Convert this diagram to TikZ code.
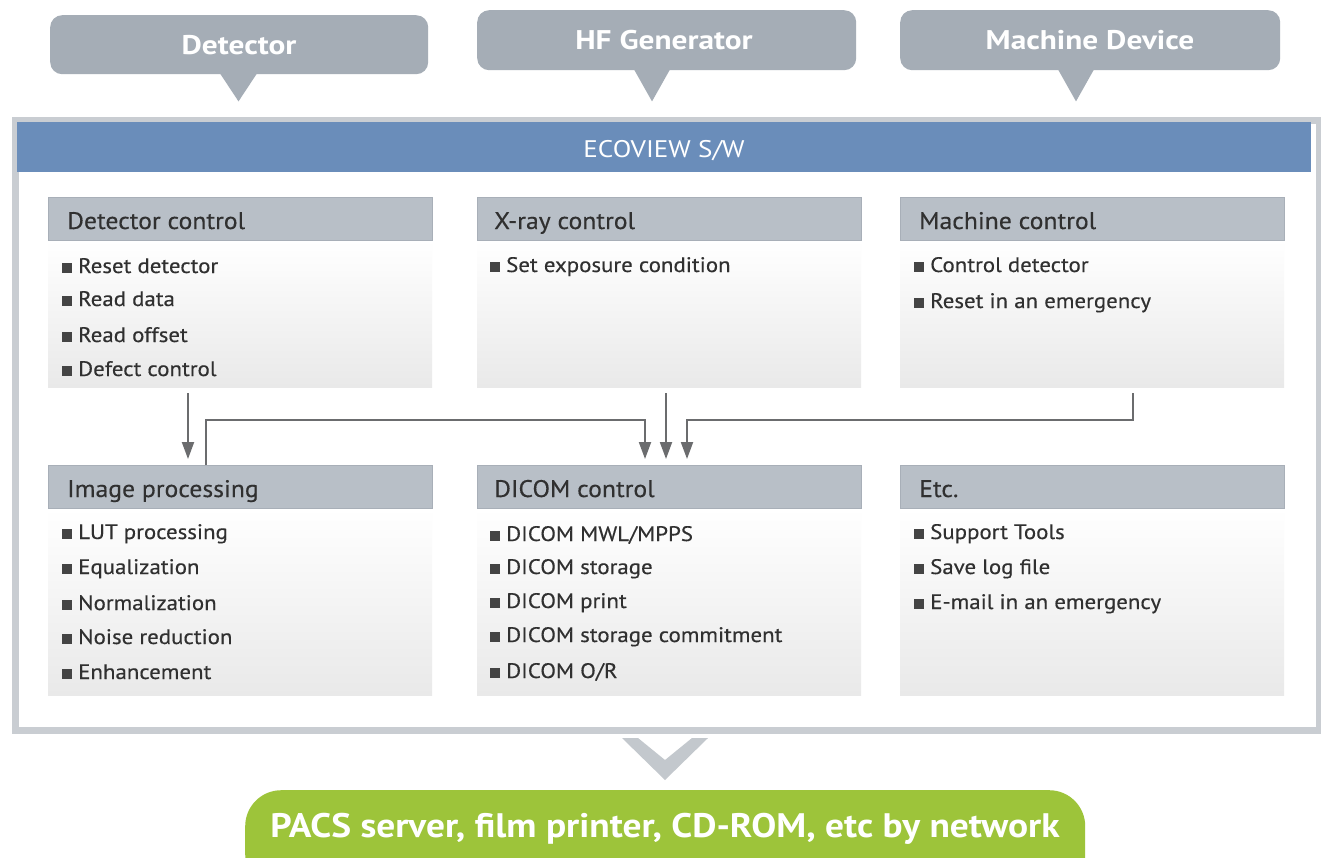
\documentclass[tikz,border=0pt]{standalone}
\usepackage{fontspec}
\setmainfont{PT Sans}
\newfontfamily\bodyfont{PT Sans}[FakeStretch=1.09, FakeBold=0.35]
\newfontfamily\hdrfont{PT Sans}[FakeStretch=1.07, FakeBold=0.3]
\newfontfamily\callfont{PT Sans}[FakeStretch=1.16]
\newfontfamily\pillfont{PT Sans}[FakeStretch=1.1]
\newfontfamily\bandfont{PT Sans}[FakeStretch=1.13]
\usetikzlibrary{calc,arrows.meta}
\definecolor{callgray}{HTML}{A5ADB6}
\definecolor{bandblue}{HTML}{6A8DBA}
\definecolor{hdrgray}{HTML}{B8BFC7}
\definecolor{hdrline}{HTML}{A8AFB8}
\definecolor{framegray}{HTML}{C9CDD2}
\definecolor{arrowgray}{HTML}{6B6C6E}
\definecolor{pillgreen}{HTML}{9DC43A}
\definecolor{chevgray}{HTML}{C3C8CD}
\definecolor{txtdark}{HTML}{303030}
\definecolor{bulgray}{HTML}{444444}
\definecolor{panelbot}{HTML}{E9E9E9}
\newcommand{\bsq}{\textcolor{bulgray}{\rule{10pt}{10pt}}\hspace{6pt}}
\begin{document}
\begin{tikzpicture}[x=1pt,y=-1pt,
  callout/.style={fill=callgray, rounded corners=12pt, inner sep=0pt, text=white,
    font=\callfont\fontsize{27}{30}\selectfont\bfseries},
  frame/.style={draw=framegray, line width=7pt, fill=white, inner sep=0pt},
  band/.style={fill=bandblue, inner sep=0pt, text=white, font=\bandfont\fontsize{24}{26}\selectfont},
  hdr/.style={fill=hdrgray, draw=hdrline, line width=0.8pt, inner sep=0pt,
    minimum width=384pt, minimum height=43pt, anchor=north west},
  hdrtxt/.style={anchor=base west, inner sep=0pt, text=txtdark, font=\hdrfont\fontsize{24}{28}\selectfont},
  content/.style={top color=white, bottom color=panelbot, inner sep=0pt,
    minimum width=384pt, anchor=north west},
  item/.style={anchor=base west, inner sep=0pt, text=txtdark, font=\bodyfont\fontsize{21}{24}\selectfont},
  conn/.style={draw=arrowgray, line width=2pt},
  tip/.style={-{Triangle[length=17pt,width=12pt]}},
  pill/.style={fill=pillgreen, rounded corners=36pt, inner sep=0pt},
  pilltxt/.style={text=white, inner sep=0pt, font=\pillfont\fontsize{34}{38}\selectfont\bfseries}
]
\useasboundingbox (0,0) rectangle (1321,857);
\fill[white] (0,0) rectangle (1321,857);

% top callouts
\node[callout, minimum width=378pt, minimum height=59pt, anchor=north west] (det) at (50,15) {};
\node[callout, anchor=base] (dett) at (239,54) {Detector};
\node[callout, minimum width=379pt, minimum height=60pt, anchor=north west] (hfg) at (477,10) {};
\node[callout, anchor=base] (hfgt) at (664,49) {HF Generator};
\node[callout, minimum width=380pt, minimum height=60pt, anchor=north west] (mdev) at (900,10) {};
\node[callout, anchor=base] (mdevt) at (1090,49) {Machine Device};
\fill[callgray] ($(det.south west)+(170,-1)$) -- ($(det.south west)+(207,-1)$) -- ($(det.south west)+(188.5,27)$) -- cycle;
\fill[callgray] ($(hfg.south west)+(157,-1)$) -- ($(hfg.south west)+(193,-1)$) -- ($(hfg.south west)+(175,31)$) -- cycle;
\fill[callgray] ($(mdev.south west)+(158,-1)$) -- ($(mdev.south west)+(194,-1)$) -- ($(mdev.south west)+(176,31)$) -- cycle;

% outer frame and band
\node[frame, minimum width=1304pt, minimum height=610pt, anchor=north west] (frm) at (11.5,116.5) {};
\node[band, minimum width=1294pt, minimum height=50pt, anchor=north west] (band) at (17,122) {};
\node[band, anchor=base] (bandt) at (664,157) {ECOVIEW S/W};

% panels top row
\node[content, minimum height=147pt] (c1) at (48,240) {};
\node[content, minimum height=147pt] (c2) at (477,240) {};
\node[content, minimum height=147pt] (c3) at (900,240) {};
\node[hdr] (h1) at (48,197) {};
\node[hdr] (h2) at (477,197) {};
\node[hdr] (h3) at (900,197) {};
\node[hdrtxt] (h1t) at (67,229) {Detector control};
\node[hdrtxt] (h2t) at (494,229) {X-ray control};
\node[hdrtxt] (h3t) at (919,229) {Machine control};

% panels bottom row
\node[content, minimum height=187pt] (c4) at (48,508) {};
\node[content, minimum height=187pt] (c5) at (477,508) {};
\node[content, minimum height=187pt] (c6) at (900,508) {};
\node[hdr] (h4) at (48,465) {};
\node[hdr] (h5) at (477,465) {};
\node[hdr] (h6) at (900,465) {};
\node[hdrtxt] (h4t) at (67,497) {Image processing};
\node[hdrtxt] (h5t) at (494,497) {DICOM control};
\node[hdrtxt] (h6t) at (919,497) {Etc.};

% items
\node[item] (i11) at (62,273) {\bsq Reset detector};
\node[item] (i12) at (62,306) {\bsq Read data};
\node[item] (i13) at (62,342) {\bsq Read offset};
\node[item] (i14) at (62,376) {\bsq Defect control};
\node[item] (i21) at (490,272) {\bsq Set exposure condition};
\node[item] (i31) at (914,272) {\bsq Control detector};
\node[item] (i32) at (914,308) {\bsq Reset in an emergency};
\node[item] (i41) at (62,539) {\bsq LUT processing};
\node[item] (i42) at (62,574) {\bsq Equalization};
\node[item] (i43) at (62,610) {\bsq Normalization};
\node[item] (i44) at (62,644) {\bsq Noise reduction};
\node[item] (i45) at (62,679) {\bsq Enhancement};
\node[item] (i51) at (490,541) {\bsq DICOM MWL/MPPS};
\node[item] (i52) at (490,574) {\bsq DICOM storage};
\node[item] (i53) at (490,608) {\bsq DICOM print};
\node[item] (i54) at (490,642) {\bsq DICOM storage commitment};
\node[item] (i55) at (490,678) {\bsq DICOM O/R};
\node[item] (i61) at (914,539) {\bsq Support Tools};
\node[item] (i62) at (914,574) {\bsq Save log file};
\node[item] (i63) at (914,609) {\bsq E-mail in an emergency};

% connectors
\coordinate (a1s) at ($(c1.south west)+(140,6)$);
\coordinate (a1e) at ($(h4.north west)+(140,-6)$);
\draw[conn, tip] (a1s) -- (a1e);
\coordinate (a2s) at ($(h4.north west)+(158,0)$);
\coordinate (a2e) at ($(h5.north west)+(168,-6)$);
\draw[conn, tip] (a2s) -- ++(0,-45) -| (a2e);
\coordinate (a3s) at ($(c2.south west)+(189,6)$);
\coordinate (a3e) at ($(h5.north west)+(189,-6)$);
\draw[conn, tip] (a3s) -- (a3e);
\coordinate (a4s) at ($(c3.south west)+(233,6)$);
\coordinate (a4e) at ($(h5.north west)+(210,-6)$);
\draw[conn, tip] (a4s) -- ++(0,27) -| (a4e);

% chevron
\fill[chevgray] (622,738) -- (638,738) -- (665,760) -- (692,738) -- (708,738) -- (665,780) -- cycle;

% bottom pill
\node[pill, minimum width=840pt, minimum height=100pt, anchor=north west] (pacs) at (245,790) {};
\node[pilltxt, anchor=base] (pacst) at (665,837) {PACS server, film printer, CD-ROM, etc by network};
\end{tikzpicture}
\end{document}
